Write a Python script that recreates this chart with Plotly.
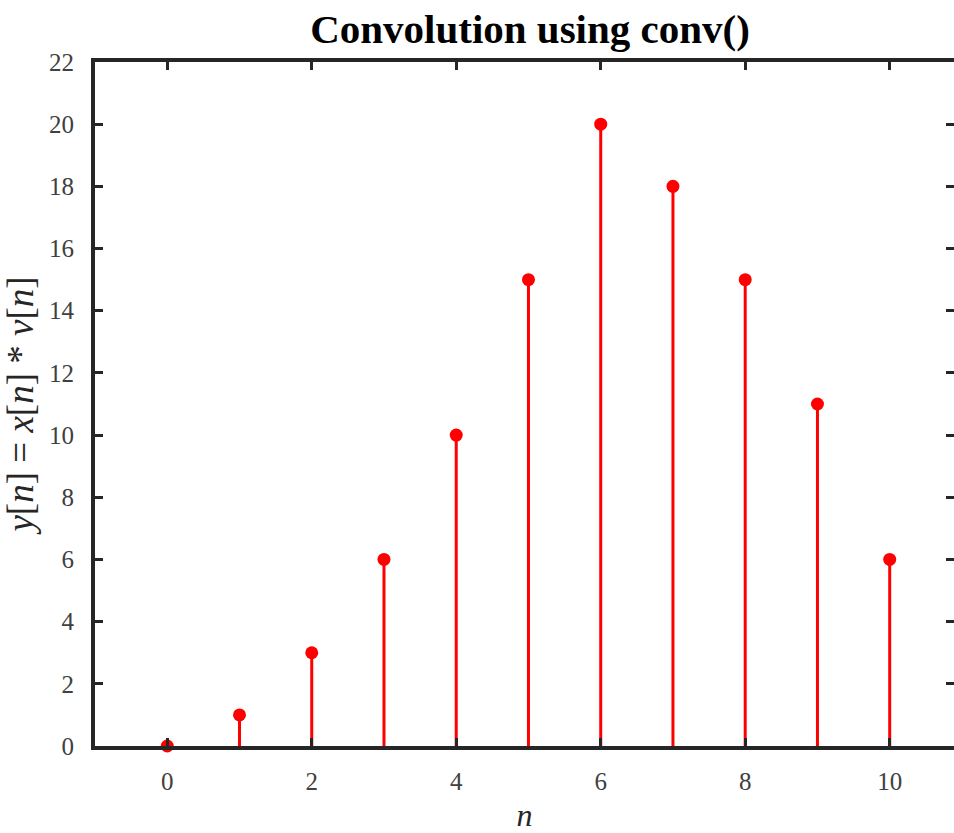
import plotly.graph_objects as go

n_vals = [0, 1, 2, 3, 4, 5, 6, 7, 8, 9, 10]
y_vals = [0, 1, 3, 6, 10, 15, 20, 18, 15, 11, 6]
x_ticks = [0, 2, 4, 6, 8, 10]
y_ticks = [0, 2, 4, 6, 8, 10, 12, 14, 16, 18, 20, 22]

title_text = "<b>Convolution using conv()</b>"
ylabel_text = "<i>y</i>[<i>n</i>] = <i>x</i>[<i>n</i>] * <i>v</i>[<i>n</i>]"
xlabel_text = "<i>n</i>"

# stems built from data
stem_x, stem_y = [], []
for n, v in zip(n_vals, y_vals):
    stem_x += [n, n, None]
    stem_y += [0, v, None]

RED = "#ff0000"
AX = "#262626"
TICKC = "#404040"
FONT = "Liberation Serif"

fig = go.Figure()
fig.add_trace(go.Scatter(x=stem_x, y=stem_y, mode="lines",
                         line=dict(color=RED, width=3), hoverinfo="skip",
                         showlegend=False, cliponaxis=False))
fig.add_trace(go.Scatter(x=n_vals, y=y_vals, mode="markers",
                         marker=dict(color=RED, size=13, line=dict(width=0)),
                         showlegend=False, cliponaxis=False))
# invisible trace to anchor right-hand tick axis
fig.add_trace(go.Scatter(x=[n_vals[0]], y=[y_vals[0]], yaxis="y2", mode="markers",
                         marker=dict(opacity=0), showlegend=False, hoverinfo="skip"))

fig.update_layout(
    width=954, height=833,
    margin=dict(l=95, r=0, t=62, b=87, autoexpand=False),
    paper_bgcolor="white", plot_bgcolor="white",
    font=dict(family=FONT, color=TICKC),
    title=dict(text=title_text, x=530/954, xref="container", xanchor="center",
               y=1-29/833, yref="container", yanchor="middle",
               font=dict(family=FONT, size=41, color="black")),
    xaxis=dict(range=[-1, 10.89], tickvals=x_ticks, ticks="inside", ticklen=8,
               tickwidth=3, tickcolor=AX, showline=True, linewidth=4, linecolor=AX,
               mirror="ticks", showgrid=False, zeroline=False, layer="above traces",
               tickfont=dict(size=25, color=TICKC, family=FONT),
               ticklabelstandoff=10, automargin=False,
               title=dict(text=xlabel_text, standoff=14,
                          font=dict(size=32, color=AX, family=FONT))),
    yaxis=dict(range=[0, 22], tickvals=y_ticks, ticks="inside", ticklen=8,
               tickwidth=3, tickcolor=AX, showline=True, linewidth=4, linecolor=AX,
               mirror=False, showgrid=False, zeroline=False, layer="above traces",
               tickfont=dict(size=25, color=TICKC, family=FONT),
               ticklabelstandoff=12, automargin=False,
               title=dict(text=ylabel_text, standoff=6,
                          font=dict(size=37, color=AX, family=FONT))),
    yaxis2=dict(range=[0, 22], overlaying="y", side="right", tickvals=y_ticks,
                ticks="inside", ticklen=8, tickwidth=3, tickcolor=AX,
                showline=False, showgrid=False, zeroline=False,
                showticklabels=False, layer="above traces", automargin=False),
)

fig.write_html("out.html",
               config={"displayModeBar": False},
               post_script="document.body.style.margin='0';"
                           "document.body.style.overflow='hidden';")
